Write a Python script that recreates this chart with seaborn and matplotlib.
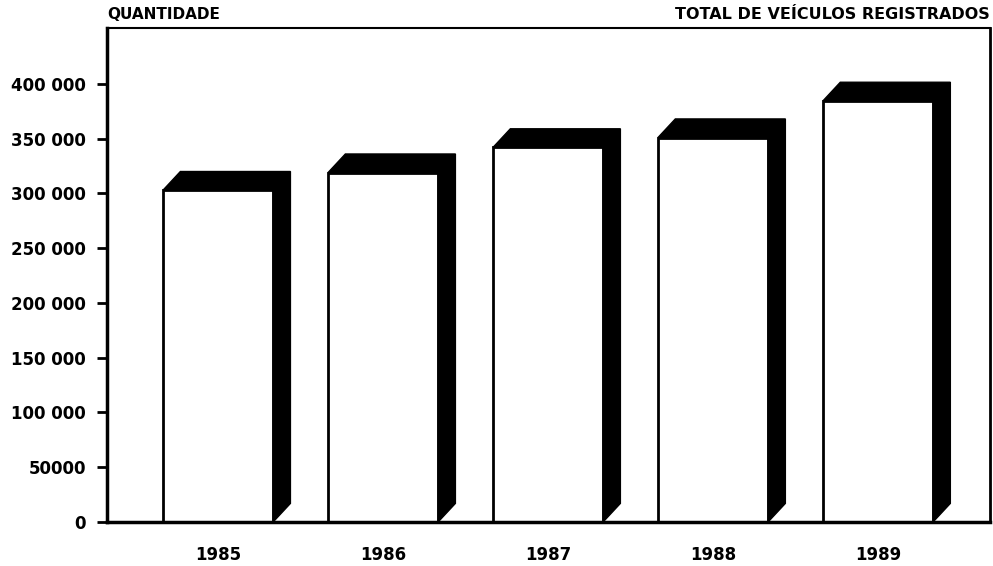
import matplotlib
matplotlib.use("Agg")
import matplotlib.pyplot as plt
import seaborn as sns

# Data
years = ["1985", "1986", "1987", "1988", "1989"]
vehicles = [303000, 319000, 342000, 351000, 384500]
ytick_values = [0, 50000, 100000, 150000, 200000, 250000, 300000, 350000, 400000]
ytick_labels = ["0", "50000", "100 000", "150 000", "200 000",
                "250 000", "300 000", "350 000", "400 000"]


def main():
    sns.set_style("white")
    plt.rcParams["font.family"] = ["DejaVu Sans"]
    plt.rcParams["font.weight"] = "bold"
    plt.rcParams["text.color"] = "black"
    plt.rcParams["xtick.color"] = "black"
    plt.rcParams["ytick.color"] = "black"

    fig = plt.figure(figsize=(9.93, 5.66), dpi=100)
    ax = fig.add_axes([0.1078, 0.0777, 0.8892, 0.8728])

    sns.barplot(
        x=years,
        y=vehicles,
        color="white",
        edgecolor="black",
        linewidth=2,
        width=0.667,
        ax=ax,
    )

    # fake 3D depth: black top and right side faces
    dx = 0.105
    dy = 17000
    for p in ax.patches:
        p.set_facecolor("white")
        x0 = p.get_x()
        x1 = x0 + p.get_width()
        h = p.get_height()
        ax.fill(
            [x0, x0 + dx, x1 + dx, x1 + dx, x1, x1],
            [h, h + dy, h + dy, dy, 0, h],
            color="black",
            zorder=3,
            clip_on=False,
        )

    ax.set_xlim(-0.673, 4.679)
    ax.set_ylim(0, 451000)
    ax.set_yticks(ytick_values)
    ax.set_yticklabels(ytick_labels, fontsize=12, fontweight="bold")
    ax.tick_params(axis="y", direction="out", length=7, width=2, pad=8, left=True)
    ax.tick_params(axis="x", length=0, pad=17, labelsize=12)
    for lbl in ax.get_xticklabels():
        lbl.set_fontweight("bold")
        lbl.set_color("black")
    for lbl in ax.get_yticklabels():
        lbl.set_color("black")
    ax.set_xlabel("")
    ax.set_ylabel("")

    for side in ["left", "right", "top", "bottom"]:
        ax.spines[side].set_visible(True)
        ax.spines[side].set_color("black")
    ax.spines["left"].set_linewidth(2.5)
    ax.spines["bottom"].set_linewidth(2.5)
    ax.spines["right"].set_linewidth(2)
    ax.spines["top"].set_linewidth(1.5)

    fig.text(0.1078, 0.975, "QUANTIDADE", ha="left", va="center",
             fontsize=11, fontweight="bold", color="black")
    fig.text(0.997, 0.975, "TOTAL DE VEÍCULOS REGISTRADOS", ha="right", va="center",
             fontsize=11.5, fontweight="bold", color="black")

    plt.savefig("out.png", dpi=100)
    plt.close()


if __name__ == "__main__":
    main()
